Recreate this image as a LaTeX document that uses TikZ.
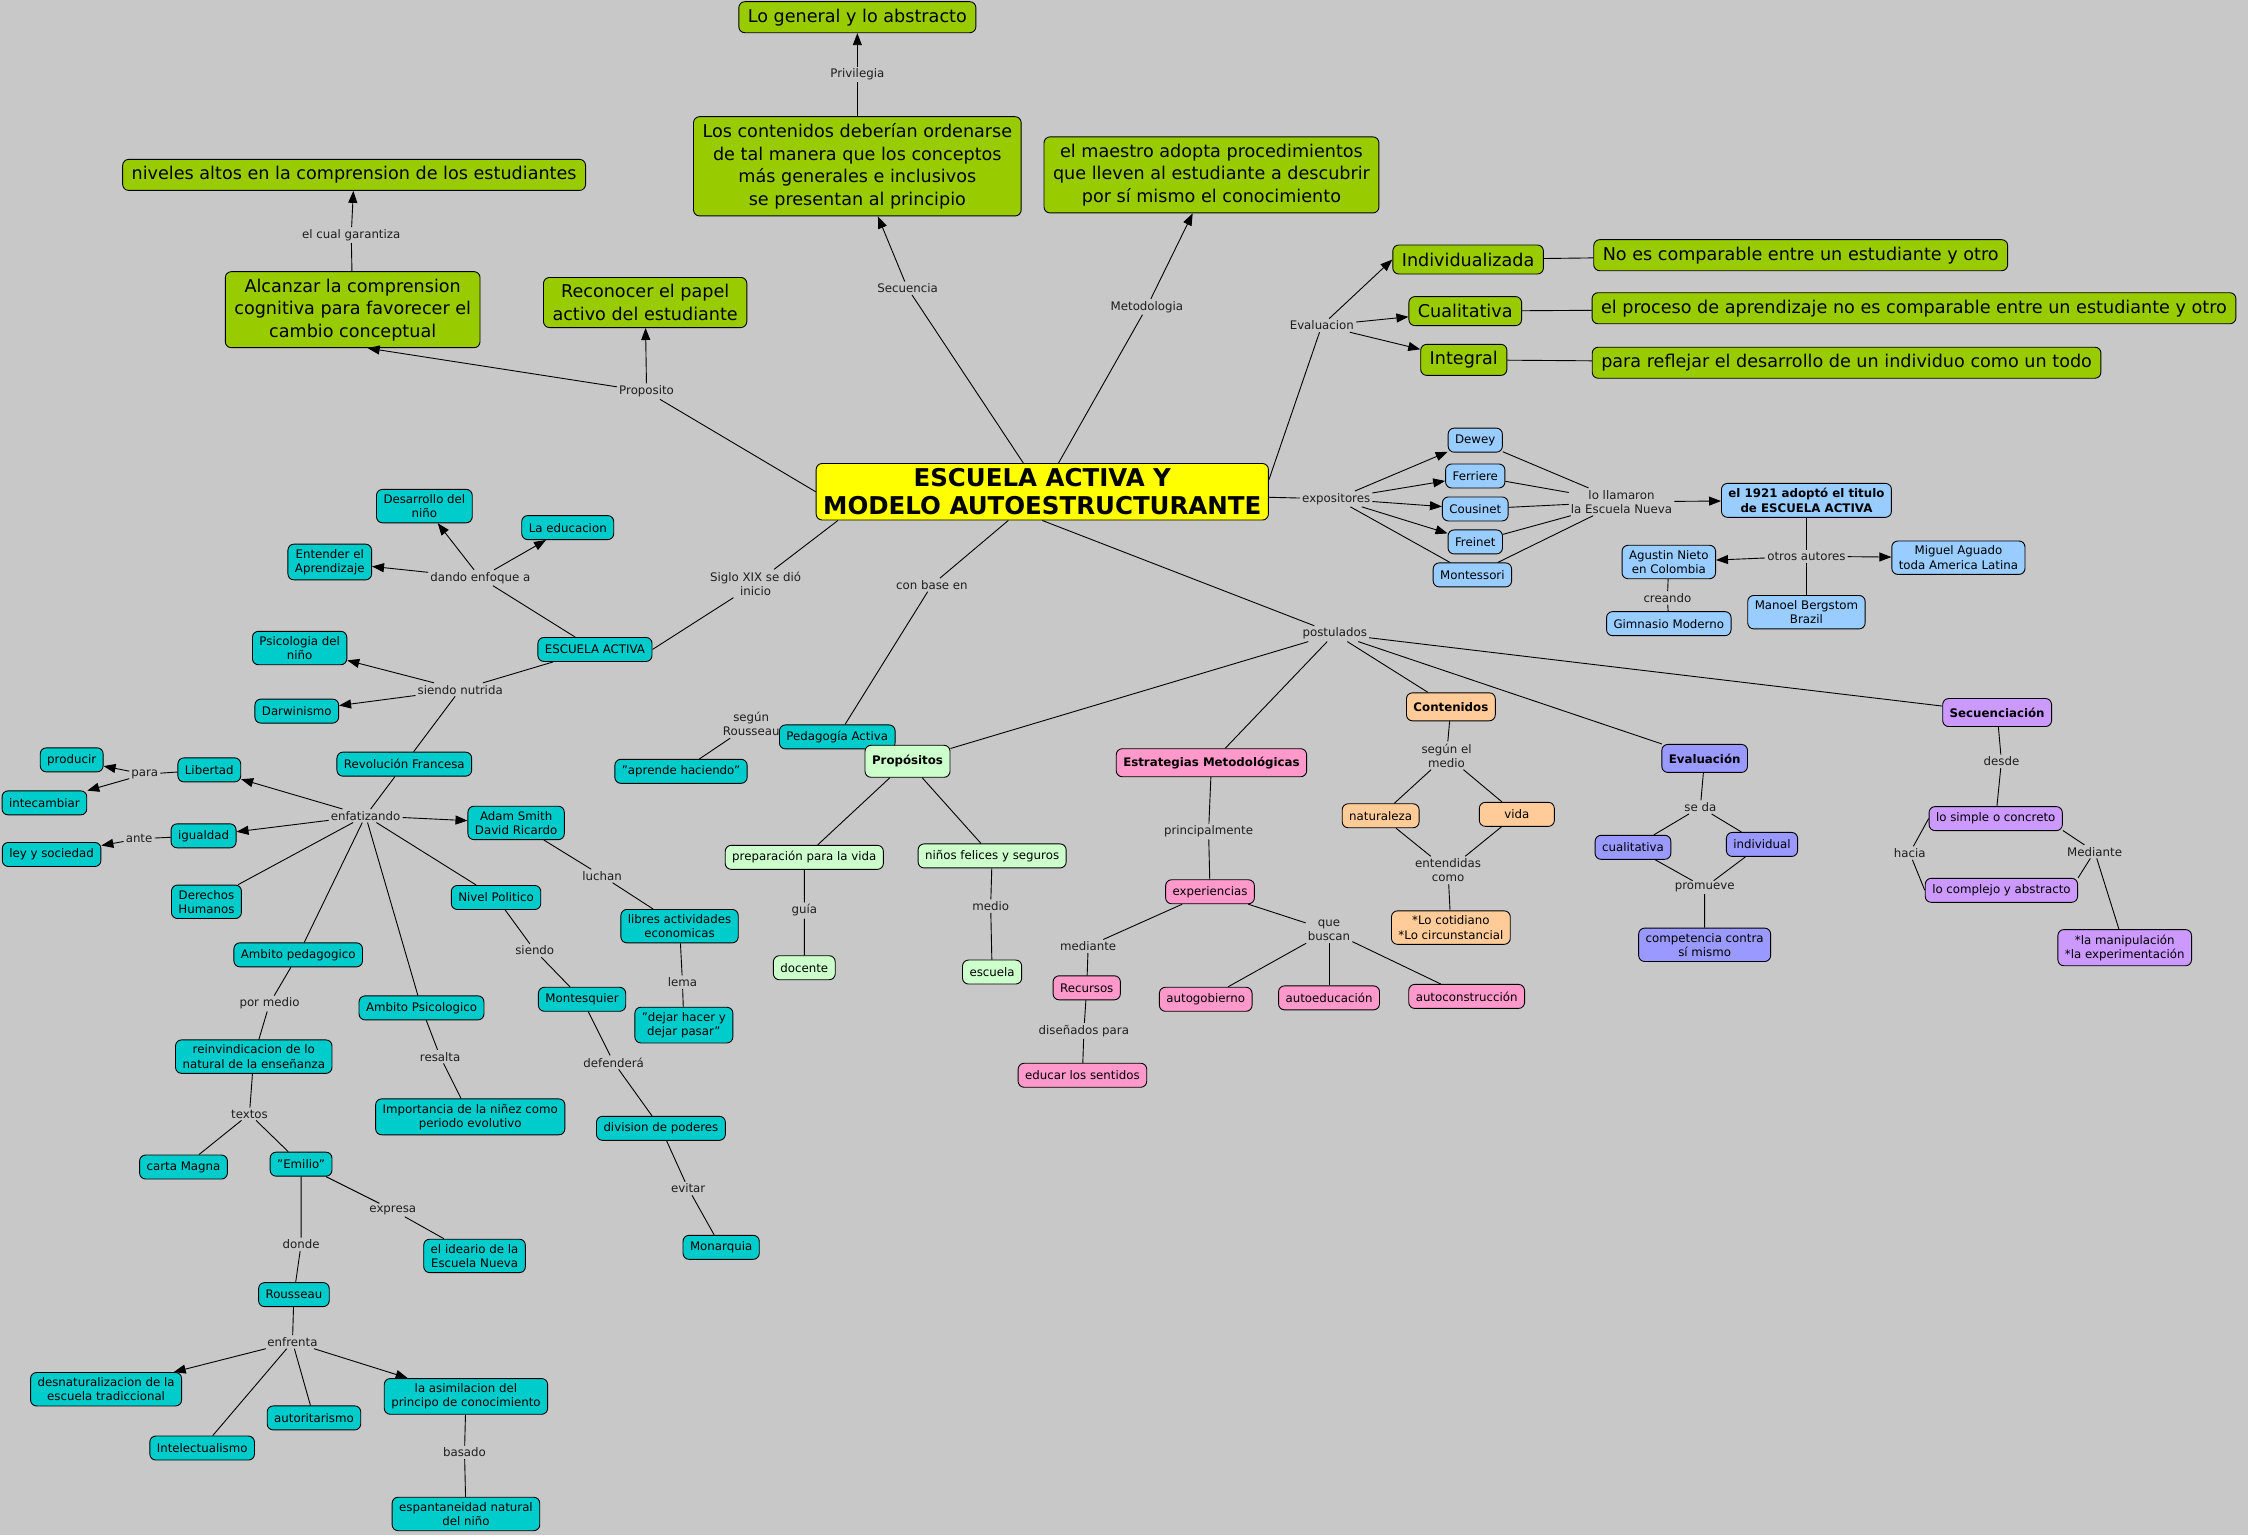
\documentclass[tikz,border=0pt]{standalone}
\usepackage{fontspec}
\setmainfont{DejaVu Sans}
\usetikzlibrary{arrows.meta}
\definecolor{mapbg}{HTML}{C8C8C8}
\definecolor{mapgreen}{HTML}{99CC00}
\definecolor{mapyellow}{HTML}{FFFF00}
\definecolor{mapcyan}{HTML}{00CCCC}
\definecolor{mapsky}{HTML}{99CCFF}
\definecolor{mapmint}{HTML}{CCFFCC}
\definecolor{mappink}{HTML}{FF99CC}
\definecolor{mappeach}{HTML}{FFCC99}
\definecolor{mapblue}{HTML}{9999FF}
\definecolor{maplilac}{HTML}{CC99FF}
\definecolor{mapink}{HTML}{1E1E1E}
\newcommand{\mapsmall}{\fontsize{11.8}{14.3}\selectfont}
\newcommand{\mapbig}{\fontsize{17.6}{22.5}\selectfont}
\newcommand{\maptitle}{\fontsize{24.5}{28}\selectfont\bfseries}

\begin{document}
\begin{tikzpicture}[x=1.4337pt,y=-1.4337pt,
    box/.style={draw=black,line width=.9pt,rounded corners=6pt,align=center,
      inner xsep=7pt,inner ysep=5pt,minimum height=24pt,font=\mapsmall,text=black},
    bigbox/.style={box,fill=mapgreen,font=\mapbig,inner xsep=9pt,inner ysep=7pt,minimum height=29pt},
    titlebox/.style={box,fill=mapyellow,font=\maptitle,inner xsep=7pt,inner ysep=5pt},
    cyanbox/.style={box,fill=mapcyan},
    skybox/.style={box,fill=mapsky},
    mintbox/.style={box,fill=mapmint},
    pinkbox/.style={box,fill=mappink},
    peachbox/.style={box,fill=mappeach},
    bluebox/.style={box,fill=mapblue},
    lilacbox/.style={box,fill=maplilac},
    headbox/.style={font=\mapsmall\bfseries,minimum height=28pt},
    link/.style={font=\mapsmall,text=mapink,align=center,inner sep=2pt},
    conn/.style={draw=black,line width=.9pt},
    arr/.style={conn,-{Triangle[length=12pt,width=9pt]}}]
  \useasboundingbox (0,0) rectangle (1568,1071);
  \fill[mapbg] (0,0) rectangle (1568,1071);

  % centre
  \node[titlebox] (mainTitle) at (727,343) {ESCUELA ACTIVA Y\\MODELO AUTOESTRUCTURANTE};

  % green top branch
  \node[bigbox] (genAbs) at (598,12) {Lo general y lo abstracto};
  \node[bigbox] (contOrden) at (598,116) {Los contenidos deberían ordenarse\\de tal manera que los conceptos\\más generales e inclusivos\\se presentan al principio};
  \node[bigbox] (maestro) at (845,122) {el maestro adopta procedimientos\\que lleven al estudiante a descubrir\\por sí mismo el conocimiento};
  \node[bigbox] (niveles) at (247,122) {niveles altos en la comprension de los estudiantes};
  \node[bigbox] (alcanzar) at (246,216) {Alcanzar la comprension\\cognitiva para favorecer el\\cambio conceptual};
  \node[bigbox] (reconocer) at (450,211) {Reconocer el papel\\activo del estudiante};
  \node[bigbox] (individ) at (1024,181) {Individualizada};
  \node[bigbox] (evCualit) at (1022,217) {Cualitativa};
  \node[bigbox] (integral) at (1021,251) {Integral};
  \node[bigbox] (noComp) at (1256,178) {No es comparable entre un estudiante y otro};
  \node[bigbox] (proceso) at (1335,215) {el proceso de aprendizaje no es comparable entre un estudiante y otro};
  \node[bigbox] (reflejar) at (1288,253) {para reflejar el desarrollo de un individuo como un todo};

  % expositores
  \node[skybox] (dewey) at (1029,307) {Dewey};
  \node[skybox] (ferriere) at (1029,332) {Ferriere};
  \node[skybox] (cousinet) at (1029,355) {Cousinet};
  \node[skybox] (freinet) at (1029,378) {Freinet};
  \node[skybox] (montessori) at (1027,401) {Montessori};
  \node[skybox,font=\mapsmall\bfseries] (titulo) at (1260,349) {el 1921 adoptó el titulo\\de ESCUELA ACTIVA};
  \node[skybox] (nieto) at (1164,392) {Agustin Nieto\\en Colombia};
  \node[skybox] (aguado) at (1366,389) {Miguel Aguado\\toda America Latina};
  \node[skybox] (gimnasio) at (1164,435) {Gimnasio Moderno};
  \node[skybox] (bergstom) at (1260,427) {Manoel Bergstom\\Brazil};

  % escuela activa
  \node[cyanbox] (desarrollo) at (296,353) {Desarrollo del\\niño};
  \node[cyanbox] (educacion) at (396,368) {La educacion};
  \node[cyanbox] (entender) at (230,392) {Entender el\\Aprendizaje};
  \node[cyanbox] (escActiva) at (415,453) {ESCUELA ACTIVA};
  \node[cyanbox] (psico) at (209,452) {Psicologia del\\niño};
  \node[cyanbox] (darwin) at (207,496) {Darwinismo};
  \node[cyanbox] (revolucion) at (282,533) {Revolución Francesa};
  \node[cyanbox] (producir) at (50,530) {producir};
  \node[cyanbox] (intercambiar) at (31,560) {intecambiar};
  \node[cyanbox] (libertad) at (146,537) {Libertad};
  \node[cyanbox] (igualdad) at (142,583) {igualdad};
  \node[cyanbox] (ley) at (36,596) {ley y sociedad};
  \node[cyanbox] (smith) at (360,574) {Adam Smith\\David Ricardo};
  \node[cyanbox] (derechos) at (144,629) {Derechos\\Humanos};
  \node[cyanbox] (nivelPol) at (346,626) {Nivel Politico};
  \node[cyanbox] (libres) at (474,646) {libres actividades\\economicas};
  \node[cyanbox] (ambPed) at (208,666) {Ambito pedagogico};
  \node[cyanbox] (montesq) at (406,697) {Montesquier};
  \node[cyanbox] (dejar) at (477,715) {"dejar hacer y\\dejar pasar"};
  \node[cyanbox] (ambPsi) at (294,703) {Ambito Psicologico};
  \node[cyanbox] (reinv) at (177,737) {reinvindicacion de lo\\natural de la enseñanza};
  \node[cyanbox] (importancia) at (328,779) {Importancia de la niñez como\\periodo evolutivo};
  \node[cyanbox] (division) at (461,787) {division de poderes};
  \node[cyanbox] (carta) at (128,814) {carta Magna};
  \node[cyanbox] (emilio) at (210,812) {"Emilio"};
  \node[cyanbox] (ideario) at (331,876) {el ideario de la\\Escuela Nueva};
  \node[cyanbox] (monarquia) at (503,870) {Monarquia};
  \node[cyanbox] (rousseau) at (205,903) {Rousseau};
  \node[cyanbox] (desnat) at (74,969) {desnaturalizacion de la\\escuela tradiccional};
  \node[cyanbox] (asimil) at (325,974) {la asimilacion del\\principo de conocimiento};
  \node[cyanbox] (autorit) at (219,989) {autoritarismo};
  \node[cyanbox] (intelect) at (141,1010) {Intelectualismo};
  \node[cyanbox] (espont) at (325,1056) {espantaneidad natural\\del niño};
  \node[cyanbox] (aprende) at (475,538) {"aprende haciendo"};
  \node[link] (lSegun) at (524,505) {según\\Rousseau};
  \node[cyanbox] (pedActiva) at (584,514) {Pedagogía Activa};

  % postulados
  \node[mintbox,headbox,minimum height=32pt] (propositos) at (633,531) {Propósitos};
  \node[mintbox] (preparacion) at (561,598) {preparación para la vida};
  \node[mintbox] (felices) at (692,597) {niños felices y seguros};
  \node[mintbox] (docente) at (561,675) {docente};
  \node[mintbox] (escuela) at (692,678) {escuela};
  \node[pinkbox,headbox] (estrategias) at (845,532) {Estrategias Metodológicas};
  \node[pinkbox] (experiencias) at (844,622) {experiencias};
  \node[pinkbox] (recursos) at (758,689) {Recursos};
  \node[pinkbox] (autogob) at (841,697) {autogobierno};
  \node[pinkbox] (autoedu) at (927,696) {autoeducación};
  \node[pinkbox] (autocons) at (1023,695) {autoconstrucción};
  \node[pinkbox] (educar) at (755,750) {educar los sentidos};
  \node[peachbox,headbox] (contenidos) at (1012,493) {Contenidos};
  \node[peachbox] (naturaleza) at (963,569) {naturaleza};
  \node[peachbox,minimum width=75pt] (vida) at (1058,568) {vida};
  \node[peachbox] (cotidiano) at (1012,647) {*Lo cotidiano\\*Lo circunstancial};
  \node[bluebox,headbox] (evaluacion) at (1189,529) {Evaluación};
  \node[bluebox] (cualitativa) at (1139,591) {cualitativa};
  \node[bluebox] (individual) at (1229,589) {individual};
  \node[bluebox] (competencia) at (1189,659) {competencia contra\\sí mismo};
  \node[lilacbox,headbox] (secuencia) at (1393,497) {Secuenciación};
  \node[lilacbox] (simple) at (1392,571) {lo simple o concreto};
  \node[lilacbox] (complejo) at (1396,621) {lo complejo y abstracto};
  \node[lilacbox] (manipula) at (1482,661) {*la manipulación\\*la experimentación};

  % linking words
  \node[link] (lPriv) at (598,52) {Privilegia};
  \node[link] (lSec) at (633,201) {Secuencia};
  \node[link] (lMet) at (800,214) {Metodologia};
  \node[link] (lGar) at (245,164) {el cual garantiza};
  \node[link] (lProp) at (451,273) {Proposito};
  \node[link] (lEval) at (922,227) {Evaluacion};
  \node[link] (lExpo) at (932,348) {expositores};
  \node[link] (lLlam) at (1131,350) {lo llamaron\\la Escuela Nueva};
  \node[link] (lOtros) at (1260,388) {otros autores};
  \node[link] (lCrea) at (1163,417) {creando};
  \node[link] (lSiglo) at (527,407) {Siglo XIX se dió\\inicio};
  \node[link] (lBase) at (650,408) {con base en};
  \node[link] (lPost) at (931,442) {postulados};
  \node[link] (lEnfo) at (335,403) {dando enfoque a};
  \node[link] (lNutr) at (321,481) {siendo nutrida};
  \node[link] (lPara) at (101,540) {para};
  \node[link] (lEnfa) at (255,569) {enfatizando};
  \node[link] (lAnte) at (97,585) {ante};
  \node[link] (lLuch) at (420,611) {luchan};
  \node[link] (lPorMedio) at (188,700) {por medio};
  \node[link] (lSiendo) at (373,663) {siendo};
  \node[link] (lLema) at (476,685) {lema};
  \node[link] (lResal) at (307,737) {resalta};
  \node[link] (lDefe) at (428,741) {defenderá};
  \node[link] (lText) at (174,777) {textos};
  \node[link] (lExpr) at (274,844) {expresa};
  \node[link] (lEvit) at (480,829) {evitar};
  \node[link] (lDonde) at (210,868) {donde};
  \node[link] (lEnfr) at (204,936) {enfrenta};
  \node[link] (lBasa) at (324,1013) {basado};
  \node[link] (lGuia) at (561,635) {guía};
  \node[link] (lMedio) at (691,632) {medio};
  \node[link] (lPrin) at (843,580) {principalmente};
  \node[link] (lMedi) at (759,660) {mediante};
  \node[link] (lBusc) at (927,649) {que\\buscan};
  \node[link] (lDise) at (756,719) {diseñados para};
  \node[link] (lSegMed) at (1009,527) {según el\\medio};
  \node[link] (lEnten) at (1010,607) {entendidas\\como};
  \node[link] (lSeda) at (1186,563) {se da};
  \node[link] (lProm) at (1189,619) {promueve};
  \node[link] (lDesde) at (1396,531) {desde};
  \node[link] (lHacia) at (1332,595) {hacia};
  \node[link] (lMediante) at (1461,594) {Mediante};

  % connectors, top
  \draw[conn] (contOrden) -- (lPriv);
  \draw[arr] (lPriv) -- (genAbs);
  \draw[conn] (mainTitle) -- (lSec);
  \draw[arr] (lSec) -- (contOrden);
  \draw[conn] (mainTitle) -- (lMet);
  \draw[arr] (lMet) -- (maestro);
  \draw[conn] (mainTitle.west) -- (lProp);
  \draw[arr] (lProp) -- ([xshift=15pt]alcanzar.south);
  \draw[arr] (lProp) -- (reconocer);
  \draw[conn] (alcanzar) -- (lGar);
  \draw[arr] (lGar) -- (niveles);
  \draw[conn] (mainTitle.3) -- (lEval);
  \draw[arr] (lEval) -- (individ.west);
  \draw[arr] (lEval) -- (evCualit);
  \draw[arr] (lEval) -- (integral);
  \draw[conn] (individ) -- (noComp) (evCualit) -- (proceso) (integral) -- (reflejar);

  % connectors, expositores
  \draw[conn] (mainTitle) -- (lExpo);
  \foreach \n in {dewey,ferriere,cousinet,freinet}
    \draw[arr] (lExpo) -- (\n);
  \draw[conn] (lExpo) -- (montessori);
  \foreach \n in {dewey,ferriere,cousinet,freinet,montessori}
    \draw[conn] (\n) -- (lLlam);
  \draw[arr] (lLlam) -- (titulo);
  \draw[conn] (titulo) -- (lOtros) (lOtros) -- (bergstom);
  \draw[arr] (lOtros) -- (nieto);
  \draw[arr] (lOtros) -- (aguado);
  \draw[conn] (nieto) -- (lCrea) (lCrea) -- (gimnasio);

  % connectors, escuela activa
  \draw[conn] (mainTitle.188) -- (lSiglo) (lSiglo) -- (escActiva.east);
  \draw[conn] (escActiva) -- (lEnfo);
  \foreach \n in {desarrollo,educacion,entender}
    \draw[arr] (lEnfo) -- (\n);
  \draw[conn] (escActiva) -- (lNutr) (lNutr) -- (revolucion);
  \draw[arr] (lNutr) -- (psico);
  \draw[arr] (lNutr) -- (darwin);
  \draw[conn] (revolucion) -- (lEnfa);
  \foreach \n in {libertad,igualdad,smith}
    \draw[arr] (lEnfa) -- (\n);
  \foreach \n in {derechos,ambPed,ambPsi,nivelPol}
    \draw[conn] (lEnfa) -- (\n);
  \draw[conn] (libertad) -- (lPara);
  \draw[arr] (lPara) -- (producir);
  \draw[arr] (lPara) -- (intercambiar);
  \draw[conn] (igualdad) -- (lAnte);
  \draw[arr] (lAnte) -- (ley);
  \draw[conn] (smith) -- (lLuch) (lLuch) -- (libres) (libres) -- (lLema) (lLema) -- (dejar);
  \draw[conn] (nivelPol) -- (lSiendo) (lSiendo) -- (montesq) (montesq) -- (lDefe)
    (lDefe) -- (division) (division) -- (lEvit) (lEvit) -- (monarquia);
  \draw[conn] (ambPed) -- (lPorMedio) (lPorMedio) -- (reinv) (reinv) -- (lText)
    (lText) -- (carta) (lText) -- (emilio);
  \draw[conn] (emilio) -- (lExpr) (lExpr) -- (ideario) (emilio) -- (lDonde)
    (lDonde) -- (rousseau) (rousseau) -- (lEnfr);
  \draw[arr] (lEnfr) -- (desnat);
  \draw[arr] (lEnfr) -- (asimil);
  \draw[conn] (lEnfr) -- (intelect) (lEnfr) -- (autorit);
  \draw[conn] (asimil) -- (lBasa) (lBasa) -- (espont);
  \draw[conn] (ambPsi) -- (lResal) (lResal) -- (importancia);

  % connectors, postulados
  \draw[conn] (mainTitle) -- (lBase) (lBase) -- (pedActiva);
  \draw[conn] (aprende) -- (lSegun);
  \draw[conn] (mainTitle.south) -- (lPost);
  \foreach \n in {propositos,estrategias,contenidos,evaluacion,secuencia}
    \draw[conn] (lPost) -- (\n);
  \draw[conn] (propositos) -- (preparacion) (propositos) -- (felices);
  \draw[conn] (preparacion) -- (lGuia) (lGuia) -- (docente)
    (felices) -- (lMedio) (lMedio) -- (escuela);
  \draw[conn] (estrategias) -- (lPrin) (lPrin) -- (experiencias) (experiencias) -- (lMedi)
    (lMedi) -- (recursos) (recursos) -- (lDise) (lDise) -- (educar);
  \draw[conn] (experiencias) -- (lBusc);
  \foreach \n in {autogob,autoedu,autocons}
    \draw[conn] (lBusc) -- (\n);
  \draw[conn] (contenidos) -- (lSegMed) (lSegMed) -- (naturaleza) (lSegMed) -- (vida)
    (naturaleza) -- (lEnten) (vida) -- (lEnten) (lEnten) -- (cotidiano);
  \draw[conn] (evaluacion) -- (lSeda) (lSeda) -- (cualitativa) (lSeda) -- (individual)
    (cualitativa) -- (lProm) (individual) -- (lProm) (lProm) -- (competencia);
  \draw[conn] (secuencia) -- (lDesde) (lDesde) -- (simple)
    (simple.west) -- (lHacia) (lHacia) -- (complejo.west)
    (simple.-10) -- (lMediante) (lMediante) -- (complejo.north east)
    (lMediante) -- (manipula);
\end{tikzpicture}
\end{document}
